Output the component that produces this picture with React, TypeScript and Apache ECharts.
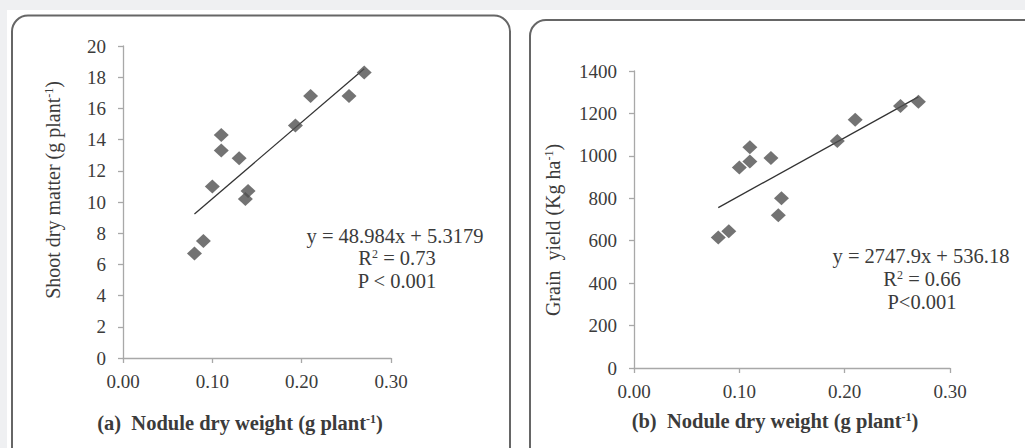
import React, { useEffect, useRef } from "react";
import * as echarts from "echarts";

// Nodule dry weight (g plant-1) — x values
const noduleA = [0.08, 0.09, 0.1, 0.11, 0.11, 0.13, 0.137, 0.14, 0.193, 0.21, 0.253, 0.27];
const shootDryMatter = [6.7, 7.5, 11.0, 13.3, 14.3, 12.8, 10.2, 10.7, 14.9, 16.8, 16.8, 18.3];

const noduleB = [0.08, 0.09, 0.1, 0.11, 0.11, 0.13, 0.137, 0.14, 0.193, 0.21, 0.253, 0.27];
const grainYield = [615, 645, 945, 973, 1040, 990, 720, 800, 1070, 1170, 1235, 1255];

// Regression lines (slope, intercept) and fit range
const fitA = [48.984, 5.3179];
const fitB = [2747.9, 536.18];
const fitRange = [0.08, 0.27];

const xTicks = [0, 0.1, 0.2, 0.3];
const yTicksA = [0, 20, 2];
const yTicksB = [0, 1400, 200];

const FONT = "Liberation Serif";
const TXT = "#3b3b3b";
const AXIS = "#a8a8a8";
const MARK = "#505050";

export default function App() {
  const ref = useRef<HTMLDivElement>(null);
  useEffect(() => {
    document.body.style.margin = "0";
    const chart = echarts.init(ref.current!, null, { renderer: "svg" });
    const pts = (xs: number[], ys: number[]) => xs.map((x, i) => [x, ys[i]]);
    const line = (f: number[]) => fitRange.map((x) => [x, f[0] * x + f[1]]);
    const xAxisBase = (gi: number) => ({
      type: "value",
      gridIndex: gi,
      min: xTicks[0],
      max: xTicks[xTicks.length - 1],
      interval: xTicks[1] - xTicks[0],
      axisLine: { show: true, lineStyle: { color: AXIS, width: 1.3 } },
      axisTick: { show: true, length: 5, lineStyle: { color: AXIS, width: 1.3 } },
      splitLine: { show: false },
      axisLabel: {
        formatter: (v: number) => v.toFixed(2),
        fontFamily: FONT,
        fontSize: 19,
        color: TXT,
        margin: 14,
      },
    });
    const yAxisBase = (gi: number, t: number[]) => ({
      type: "value",
      gridIndex: gi,
      min: t[0],
      max: t[1],
      interval: t[2],
      axisLine: { show: true, lineStyle: { color: AXIS, width: 1.3 } },
      axisTick: { show: true, length: 5, lineStyle: { color: AXIS, width: 1.3 } },
      splitLine: { show: false },
      axisLabel: {
        formatter: (v: number) => String(v),
        fontFamily: FONT,
        fontSize: 19,
        color: TXT,
        margin: 17,
      },
    });
    const txt = (x: number, y: number, text: string, size: number, extra: any = {}) => ({
      type: "text",
      x,
      y,
      z: 10,
      rotation: extra.rotation || 0,
      style: {
        text,
        fontFamily: FONT,
        fontSize: size,
        fill: TXT,
        align: "center",
        verticalAlign: "middle",
        fontWeight: extra.bold ? "bold" : "normal",
        rich: {
          sup: {
            fontFamily: FONT,
            fill: TXT,
            fontSize: Math.round(size * 0.6),
            fontWeight: extra.bold ? "bold" : "normal",
            verticalAlign: "top",
            padding: [0, 0, Math.round(size * 0.45), 0],
          },
        },
      },
    });
    chart.setOption({
      animation: false,
      backgroundColor: "#eff0f2",
      textStyle: { fontFamily: FONT },
      graphic: [
        { type: "rect", shape: { x: 7, y: 10, width: 1030, height: 450 }, style: { fill: "#ffffff" }, z: -10 },
        {
          type: "rect",
          shape: { x: 12, y: 15.5, width: 498, height: 470, r: 16 },
          style: { fill: "#ffffff", stroke: "#666666", lineWidth: 2 },
          z: -5,
        },
        {
          type: "rect",
          shape: { x: 530, y: 20, width: 520, height: 470, r: 16 },
          style: { fill: "#ffffff", stroke: "#666666", lineWidth: 2 },
          z: -5,
        },
        txt(53, 190, "Shoot dry matter (g plant{sup|-1})", 20, { rotation: Math.PI / 2 }),
        txt(553, 230, "Grain  yield (Kg ha{sup|-1})", 20, { rotation: Math.PI / 2 }),
        txt(240, 423, "(a)  Nodule dry weight (g plant{sup|-1})", 20.5, { bold: true }),
        txt(775, 421, "(b)  Nodule dry weight (g plant{sup|-1})", 20.5, { bold: true }),
        txt(395, 236, "y = 48.984x + 5.3179", 20.5),
        txt(397, 258, "R{sup|2} = 0.73", 20.5),
        txt(397, 281, "P < 0.001", 20.5),
        txt(921, 256, "y = 2747.9x + 536.18", 20.5),
        txt(922, 279, "R{sup|2} = 0.66", 20.5),
        txt(922, 302, "P<0.001", 20.5),
      ],
      grid: [
        { left: 123, top: 46, width: 268, height: 312 },
        { left: 634, top: 71, width: 316, height: 297 },
      ],
      xAxis: [xAxisBase(0), xAxisBase(1)],
      yAxis: [yAxisBase(0, yTicksA), yAxisBase(1, yTicksB)],
      series: [
        {
          type: "line",
          xAxisIndex: 0,
          yAxisIndex: 0,
          data: line(fitA),
          showSymbol: false,
          lineStyle: { color: "#333333", width: 1.3 },
          z: 3,
        },
        {
          type: "scatter",
          xAxisIndex: 0,
          yAxisIndex: 0,
          data: pts(noduleA, shootDryMatter),
          symbol: "diamond",
          symbolSize: [15, 14],
          itemStyle: { color: MARK },
          z: 4,
        },
        {
          type: "line",
          xAxisIndex: 1,
          yAxisIndex: 1,
          data: line(fitB),
          showSymbol: false,
          lineStyle: { color: "#333333", width: 1.3 },
          z: 3,
        },
        {
          type: "scatter",
          xAxisIndex: 1,
          yAxisIndex: 1,
          data: pts(noduleB, grainYield),
          symbol: "diamond",
          symbolSize: [15, 14],
          itemStyle: { color: MARK },
          z: 4,
        },
      ],
    });
    return () => chart.dispose();
  }, []);
  return <div ref={ref} style={{ width: 1025, height: 448 }} />;
}
